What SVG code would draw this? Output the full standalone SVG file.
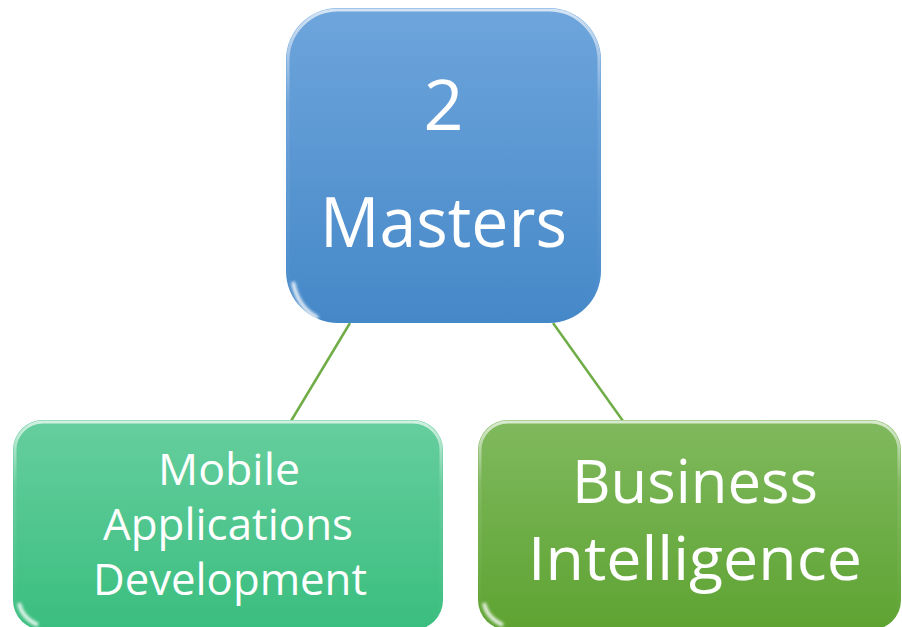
<svg xmlns="http://www.w3.org/2000/svg" width="902" height="627" viewBox="0 0 902 627">
<defs>
<linearGradient id="gBlue" x1="0" y1="0" x2="0" y2="1"><stop offset="0" stop-color="#6ea5dc"/><stop offset="1" stop-color="#4588c8"/></linearGradient>
<linearGradient id="gTeal" x1="0" y1="0" x2="0" y2="1"><stop offset="0" stop-color="#66ce9e"/><stop offset="1" stop-color="#3abe7f"/></linearGradient>
<linearGradient id="gGreen" x1="0" y1="0" x2="0" y2="1"><stop offset="0" stop-color="#80b95e"/><stop offset="1" stop-color="#5ea332"/></linearGradient>
<linearGradient id="hl" x1="0" y1="0" x2="0" y2="1"><stop offset="0" stop-color="#ffffff" stop-opacity="0.7"/><stop offset="0.3" stop-color="#ffffff" stop-opacity="0.1"/><stop offset="1" stop-color="#ffffff" stop-opacity="0"/></linearGradient>
<filter id="soft" x="-20%" y="-20%" width="140%" height="140%"><feGaussianBlur stdDeviation="1.5"/></filter>
</defs>
<style>
.lbl{font-family:"Open Sans","Liberation Sans",sans-serif;fill:#ffffff;text-anchor:middle}
.edge{stroke:#70ad47;stroke-width:2.5;fill:none}
.rim{fill:none;stroke:url(#hl);stroke-width:3}
.glare{fill:none;stroke:#ffffff;stroke-width:4;opacity:0.85;filter:url(#soft)}
</style>
<rect width="902" height="627" fill="#ffffff"/>
<g id="connectors">
<line class="edge" x1="350" y1="323" x2="291" y2="421"/>
<line class="edge" x1="553" y1="323" x2="623" y2="421"/>
</g>
<g id="node-masters">
<rect x="286" y="8" width="315" height="315" rx="52" fill="url(#gBlue)"/>
<rect x="288" y="10" width="311" height="311" rx="50" class="rim"/>
<path d="M293 282 Q298 308 318 318" class="glare"/>
<text class="lbl" x="443.5" y="130" font-size="70">2</text>
<text class="lbl" x="443.5" y="247" font-size="70" textLength="247" lengthAdjust="spacingAndGlyphs">Masters</text>
</g>
<g id="node-mobile">
<rect x="13" y="420" width="430" height="210" rx="30" fill="url(#gTeal)"/>
<rect x="15" y="422" width="426" height="206" rx="28" class="rim"/>
<path d="M19 603 Q22 618 38 625" class="glare"/>
<text class="lbl" x="229" y="485" font-size="44" textLength="142" lengthAdjust="spacingAndGlyphs">Mobile</text>
<text class="lbl" x="228" y="540" font-size="44" textLength="250" lengthAdjust="spacingAndGlyphs">Applications</text>
<text class="lbl" x="230" y="595" font-size="44" textLength="274" lengthAdjust="spacingAndGlyphs">Development</text>
</g>
<g id="node-bi">
<rect x="478" y="420" width="423" height="210" rx="30" fill="url(#gGreen)"/>
<rect x="480" y="422" width="419" height="206" rx="28" class="rim"/>
<path d="M484 603 Q487 618 503 625" class="glare"/>
<text class="lbl" x="695" y="503" font-size="60" textLength="246" lengthAdjust="spacingAndGlyphs">Business</text>
<text class="lbl" x="695" y="580" font-size="60" textLength="334" lengthAdjust="spacingAndGlyphs">Intelligence</text>
</g>
</svg>
